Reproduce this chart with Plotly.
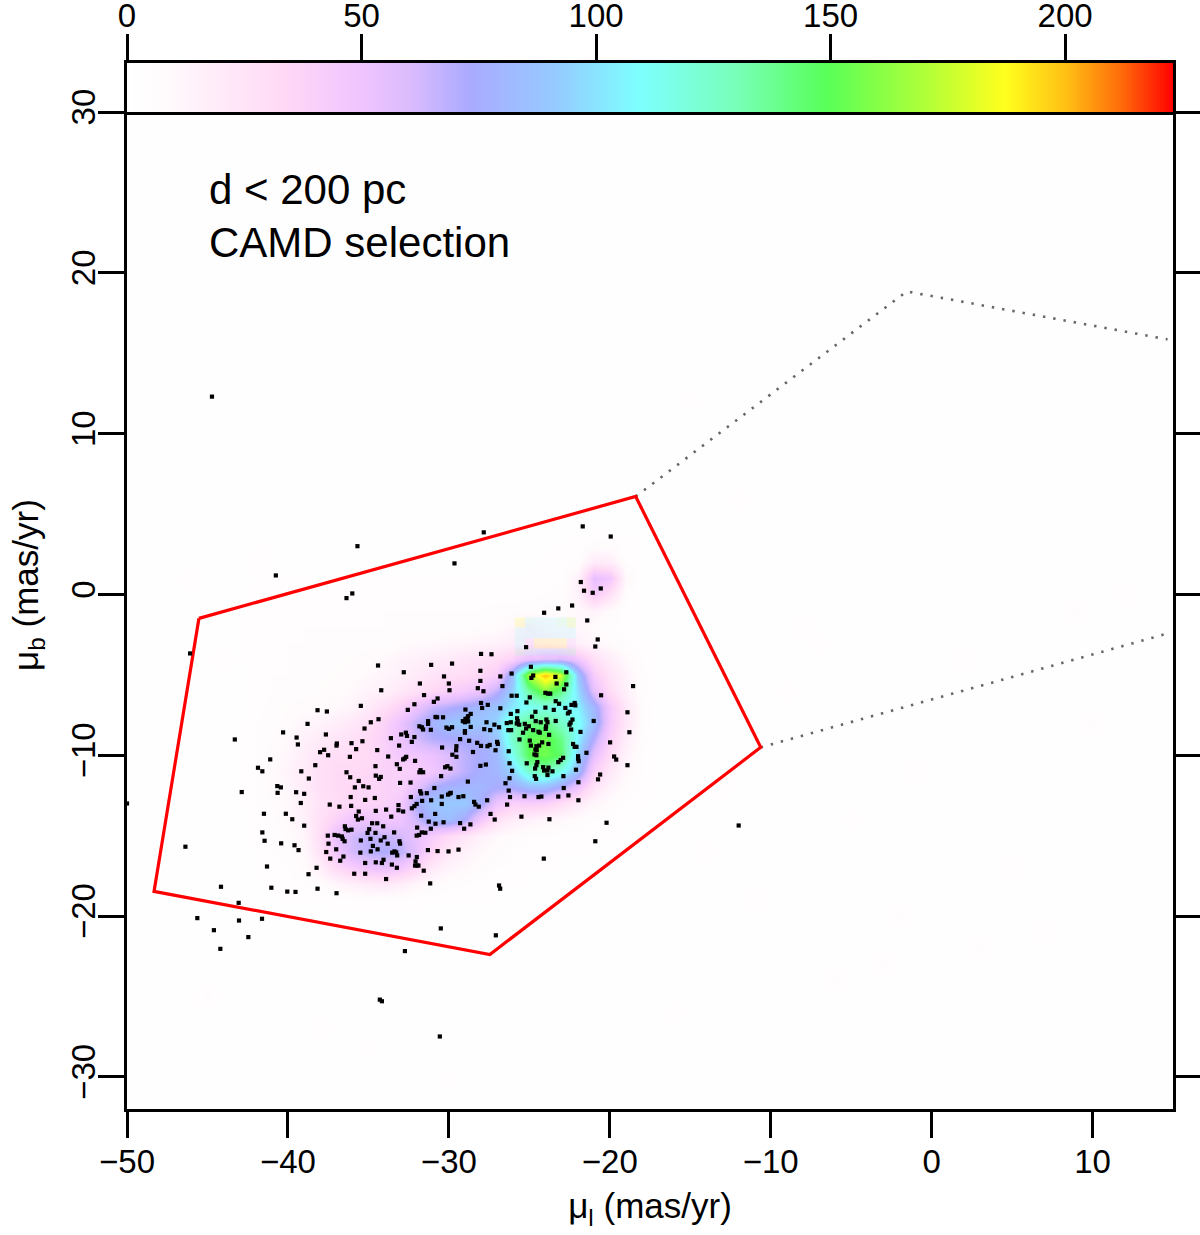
import plotly.graph_objects as go

# ---- density image (mas/yr grid) ----
BACKGROUND = 2.5
grid_x = list(range(-51, 17))
grid_y = list(range(31, -34, -1))
block_x = list(range(-42, -16))
block_y = list(range(3, -20, -1))
block_z = [
 [3,3,3,3,3,3,3,3,3,3,3,3,3,3,3,3,3,3,3,3,4,7,7,4,3,3],
 [3,3,3,3,3,3,3,3,3,3,3,3,3,3,3,3,3,3,3,4,6,20,18,5,3,3],
 [3,3,3,3,3,3,3,3,3,3,3,3,3,3,3,3,3,3,4,5,15,55,48,10,3,3],
 [4,4,4,4,4,4,4,4,4,4,4,4,4,4,4,4,4,4,5,6,15,45,28,6,3,3],
 [5,5,5,5,5,5,5,5,5,5,5,5,5,5,5,6,6,7,8,8,10,14,8,4,3,3],
 [5,5,5,5,5,5,5,5,5,6,6,6,6,6,7,8,12,18,14,12,12,8,5,4,3,3],
 [5,5,5,5,6,6,6,6,6,8,10,10,12,12,14,15,18,20,20,18,15,12,8,5,3,3],
 [5,5,5,6,6,6,7,8,10,14,16,18,20,24,26,30,38,52,60,60,48,28,18,10,5,3],
 [4,5,5,6,6,7,8,10,13,16,20,25,28,30,34,42,88,170,200,178,88,42,25,14,6,3],
 [4,5,6,6,7,8,10,14,16,22,28,34,40,45,52,68,95,135,160,140,98,55,30,16,6,3],
 [4,6,7,8,9,10,13,20,28,38,52,65,70,76,82,88,102,112,115,112,105,80,45,22,7,3],
 [5,6,8,12,14,18,22,28,38,52,68,78,88,92,88,96,125,140,140,125,112,85,45,22,7,3],
 [5,7,10,16,20,24,28,32,40,52,62,70,72,74,76,88,125,150,155,140,105,70,38,18,6,3],
 [5,8,12,18,26,30,30,32,38,46,48,52,60,68,74,82,115,150,155,145,95,55,30,14,5,3],
 [5,8,14,20,28,32,32,34,38,40,42,48,58,68,76,80,95,125,130,115,85,40,22,10,5,3],
 [5,8,12,20,28,32,34,36,38,40,55,72,78,80,80,74,75,85,85,72,50,25,14,8,4,3],
 [5,7,10,16,26,30,34,36,38,46,74,88,90,90,76,50,40,42,40,30,20,12,8,5,3,3],
 [4,6,10,16,28,38,50,50,48,50,64,80,84,72,46,26,18,15,12,10,7,5,4,3,3,3],
 [4,5,8,12,30,55,62,68,66,62,52,42,32,24,15,10,7,5,5,4,4,3,3,3,3,3],
 [3,5,6,10,26,48,62,68,72,68,54,34,22,15,10,7,5,4,4,3,3,3,3,3,3,3],
 [3,4,5,8,16,32,42,50,52,46,34,20,13,10,7,5,4,3,3,3,3,3,3,3,3,3],
 [3,3,4,5,7,12,16,20,22,18,12,8,6,5,4,3,3,3,3,3,3,3,3,3,3,3],
 [3,3,3,3,3,4,4,5,5,4,4,3,3,3,3,3,3,3,3,3,3,3,3,3,3,3],
]
faint_x = [-46,-44,-45,-38,-12,-8,-5,-2,3,7,10,-14,-11,-7,-1,2,9,12,-6,-3,5,-35,-30,-42,-16,-13,-9,-15]
faint_y = [1,-4,-25,-27,6,-2,-14,-20,-22,-21,-8,-16,-19,-3,-11,-4,-1,0,-24,-23,-17,-28,-30,2,-26,-12,-6,12]
faint_z = [5,5,6,5,4,5,4,6,6,5,6,5,5,4,5,5,6,5,6,6,5,4,4,5,4,5,4,4]

# pale banding just above the hot spot
pale_x = [-25.6,-25.0,-24.4,-23.6,-23.0,-22.4]
pale_y = [-1.75,-2.4,-3.1,-3.6,-4.0]
pale_z = [
 [187,120,110,110,130,170],
 [110,110,109,109,109,109],
 [110,60,187,187,187,60],
 [130,115,109,109,115,130],
 [60,60,40,40,60,60],
]

# ---- colour key ----
key_values = list(range(0, 224))
key_ticks = [0, 50, 100, 150, 200]
colour_stops = [
    (0, "#ffffff"), (8, "#fffbfc"), (33, "#ffd9f6"), (50, "#efc4ff"), (60, "#dcbcfd"),
    (73, "#aaaaff"), (92, "#95ccff"), (109, "#7dffff"), (130, "#78ffb8"),
    (149, "#58ff58"), (170, "#b0ff38"), (187, "#ffff1e"), (200, "#ffc014"), (212, "#ff6a0a"), (223, "#ff0000"),
]

# ---- individual stars ----
star_x = [-35.68,-29.65,-36.0,-36.36,-21.8,-21.6,-21.06,-20.56,-22.34,-23.2,-24.08,-21.4,-20.75,-20.9,-25.2,-28.0,-27.35,-34.4,-31.1,-29.8,-24.9,-32.8,-28.04,-30.3,-26.8,-26.1,-22.7,-24.87,-24.76,-23.38,-23.3,-22.7,-22.84,-31.8,-30.0,-28.04,-28.2,-26.67,-18.55,-34.2,-29.96,-27.85,-31.54,-30.7,-30.93,-26.1,-25.78,-24.0,-23.83,-23.7,-20.54,-24.97,-25.18,-23.36,-23.15,-28.0,-27.58,-27.93,-32.14,-32.55,-35.47,-26.8,-24.0,-23.48,-22.76,-22.38,-22.18,-22.14,-38.16,-37.58,-28.97,-18.9,-24.62,-26.15,-25.74,-22.5,-22.6,-28.64,-28.8,-28.97,-29.13,-29.0,-28.8,-28.84,-30.83,-30.73,-30.36,-34.37,-34.85,-38.78,-31.29,-31.29,-27.66,-27.17,-26.88,-26.4,-26.15,-25.76,-25.72,-25.78,-25.63,-24.83,-24.6,-24.29,-23.94,-23.87,-23.96,-23.98,-23.36,-22.32,-22.43,-22.5,-22.4,-21.0,-25.28,-25.03,-25.2,-25.39,-31.83,-31.68,-31.6,-31.12,-30.15,-30.0,-29.8,-28.64,-29.0,-29.0,-27.8,-27.43,-26.3,-26.13,-24.76,-24.43,-24.35,-23.77,-21.82,-18.78,-35.24,-40.3,-37.64,-39.46,-39.38,-32.96,-32.67,-32.6,-32.14,-33.6,-32.3,-35.37,-36.05,-36.96,-36.98,-33.09,-29.3,-28.74,-28.24,-28.0,-27.6,-27.46,-27.0,-26.96,-27.1,-25.61,-24.97,-24.9,-24.56,-24.39,-24.2,-23.81,-24.62,-24.54,-22.28,-22.18,-22.07,-30.42,-29.53,-29.55,-28.5,-26.28,-19.98,-35.76,-37.75,-38.0,-37.5,-34.45,-21.45,-29.78,-29.53,-24.68,-24.56,-36.15,-33.77,-32.65,-32.74,-32.84,-32.1,-21.97,-21.97,-21.93,-19.73,-19.6,-22.9,-23.05,-23.2,-25.16,-26.23,-24.5,-24.56,-24.64,-38.3,-18.9,-33.23,-33.05,-34.56,-28.04,-27.7,-30.23,-30.09,-29.9,-31.76,-31.83,-31.6,-24.14,-23.81,-24.08,-23.87,-23.56,-22.1,-26.07,-36.36,-39.17,-34.54,-34.23,-34.33,-36.13,-38.7,-30.48,-23.87,-24.66,-24.58,-22.88,-26.23,-26.48,-20.6,-20.73,-35.6,-33.03,-32.38,-28.82,-21.95,-35.32,-35.84,-34.99,-30.9,-22.86,-40.44,-26.28,-39.49,-38.99,-31.78,-31.72,-31.37,-29.94,-29.88,-30.05,-36.1,-34.6,-35.2,-32.36,-30.44,-29.4,-29.1,-26.2,-25.3,-24.43,-24.25,-23.2,-22.57,-31.66,-31.1,-27.62,-21.95,-28.43,-28.35,-28.14,-39.2,-37.4,-36.8,-36.07,-32.0,-32.14,-32.3,-30.44,-26.38,-33.13,-33.13,-32.84,-35.6,-34.54,-33.9,-40.13,-27.41,-30.85,-35.76,-35.65,-35.4,-33.58,-31.72,-39.73,-25.49,-23.75,-27.15,-31.25,-30.83,-30.33,-29.3,-28.66,-20.2,-34.77,-34.45,-38.99,-31.97,-31.12,-29.05,-36.46,-36.42,-36.26,-36.05,-34.95,-34.08,-33.4,-34.56,-35.05,-31.68,-31.46,-32.0,-31.85,-37.52,-37.1,-36.88,-36.65,-36.6,-36.48,-34.87,-34.0,-34.23,-35.47,-33.07,-33.03,-33.8,-20.9,-40.42,-37.48,-34.72,-39.59,-37.0,-37.62,-39.34,-34.43,-34.85,-35.5,-33.52,-33.38,-33.27,-33.21,-32.5,-31.99,-31.3,-30.7,-30.02,-29.4,-36.55,-37.37,-36.75,-24.1,-34.06,-34.16,-34.54,-35.2,-33.54,-33.23,-32.07,-32.1,-31.99,-31.89,-38.22,-31.56,-38.72,-35.88,-35.2,-33.9,-31.16,-26.88,-26.81,-40.04,-39.53,-38.16,-36.98,-46.08,-43.3,-41.86,-41.59,-41.1,-40.66,-40.64,-42.87,-41.49,-41.59,-41.45,-46.37,-41.3,-44.16,-41.03,-43.06,-45.63,-43.04,-41.61,-44.6,-42.46,-44.2,-32.73,-44.72,-40.75,-27.83,-21.68,-19.94,-11.99,-50.0,-34.29,-34.16,-30.56,-27.08,-30.5]
star_y = [3.0,1.93,0.06,-0.23,0.77,0.23,0.1,0.37,-0.69,-0.87,-1.14,-1.62,-2.8,-3.24,-3.28,-3.7,-3.72,-4.42,-4.38,-4.3,-4.5,-4.84,-4.75,-5.1,-5.1,-4.92,-4.84,-5.19,-5.04,-5.13,-5.54,-5.6,-5.9,-5.54,-5.54,-5.38,-5.83,-5.7,-5.7,-5.96,-5.96,-6.02,-6.26,-6.47,-6.68,-6.3,-6.3,-6.12,-6.17,-6.17,-6.27,-6.4,-6.72,-6.64,-6.8,-6.75,-6.87,-7.06,-6.83,-7.18,-6.93,-7.08,-7.04,-7.18,-7.06,-6.87,-6.75,-6.9,-7.2,-7.28,-7.16,-7.33,-7.3,-7.43,-7.26,-7.3,-7.4,-7.43,-7.57,-7.74,-7.88,-7.95,-7.9,-7.68,-7.62,-7.64,-7.64,-7.76,-7.95,-8.05,-7.88,-8.05,-7.95,-8.1,-8.26,-8.0,-7.95,-7.7,-7.88,-8.03,-8.1,-7.6,-7.88,-7.95,-7.78,-7.95,-8.2,-8.36,-7.87,-7.78,-7.97,-8.1,-8.4,-7.87,-8.05,-8.2,-8.34,-8.6,-8.2,-8.26,-8.4,-8.42,-8.28,-8.36,-8.26,-8.24,-8.5,-8.6,-8.38,-8.44,-8.44,-8.44,-8.44,-8.54,-8.6,-8.73,-8.55,-8.57,-8.34,-8.58,-8.71,-8.9,-9.33,-8.71,-8.6,-8.8,-8.87,-8.94,-9.17,-9.13,-9.25,-9.27,-9.4,-9.4,-9.0,-9.1,-9.23,-9.42,-9.44,-9.36,-9.17,-9.3,-9.69,-9.02,-9.09,-9.4,-9.44,-9.4,-9.2,-9.3,-9.65,-9.69,-9.3,-9.48,-9.48,-9.52,-9.44,-9.69,-9.8,-9.75,-9.2,-9.62,-9.66,-9.81,-10.0,-9.68,-9.85,-9.97,-10.1,-9.95,-10.0,-10.1,-10.08,-10.1,-10.2,-10.26,-10.35,-10.06,-10.22,-10.37,-10.08,-10.27,-10.16,-10.3,-10.43,-10.5,-10.5,-10.43,-10.62,-10.83,-10.62,-10.62,-10.56,-10.85,-10.68,-10.66,-10.58,-10.75,-10.68,-10.83,-10.93,-11.06,-11.06,-10.74,-10.77,-10.95,-10.95,-11.0,-10.9,-10.97,-11.06,-11.0,-11.27,-11.35,-11.47,-11.37,-11.45,-11.3,-11.23,-11.3,-11.47,-11.3,-11.43,-11.74,-11.2,-11.5,-11.6,-11.72,-11.7,-11.64,-11.68,-11.93,-12.0,-12.0,-12.04,-12.04,-12.0,-12.2,-12.3,-12.4,-12.24,-12.38,-12.36,-12.38,-12.34,-12.45,-12.6,-12.66,-12.78,-12.6,-12.57,-12.6,-12.55,-12.6,-12.55,-12.6,-12.57,-12.57,-12.5,-12.84,-12.8,-12.8,-12.8,-12.9,-13.07,-13.2,-12.97,-13.07,-13.2,-13.15,-13.03,-13.17,-13.3,-13.03,-13.07,-13.1,-13.42,-13.5,-13.5,-13.46,-13.38,-13.64,-13.65,-13.65,-13.78,-14.0,-13.92,-13.82,-13.76,-13.98,-13.82,-13.98,-14.0,-14.13,-14.26,-14.17,-14.22,-14.3,-14.2,-14.23,-14.23,-14.38,-14.5,-14.57,-14.57,-14.42,-14.59,-14.67,-14.63,-14.6,-14.42,-14.8,-14.83,-14.83,-14.8,-14.82,-15.0,-14.96,-15.0,-14.96,-15.0,-15.05,-15.2,-15.35,-15.2,-15.1,-15.3,-15.3,-15.35,-15.5,-15.5,-15.35,-15.48,-15.5,-15.64,-15.6,-15.85,-16.02,-15.9,-15.85,-15.98,-16.06,-16.06,-15.98,-16.04,-16.23,-16.23,-16.33,-15.9,-15.96,-15.98,-15.87,-16.3,-16.43,-16.56,-16.43,-16.5,-16.7,-16.66,-16.7,-16.8,-17.0,-16.6,-16.86,-16.86,-16.86,-17.0,-17.18,-17.4,-17.37,-17.37,-17.7,-17.97,-18.1,-18.3,-18.48,-18.5,-18.3,-18.58,-3.67,-9.02,-10.78,-11.0,-10.26,-11.92,-12.34,-12.29,-13.64,-14.8,-15.32,-15.69,-16.92,-18.18,-18.24,-19.18,-20.13,-20.28,-20.17,-20.88,-21.31,-22.04,-22.18,12.3,1.18,3.86,4.23,3.6,-14.37,-13.0,-25.2,-25.3,-27.49,-21.2,-20.77]

# ---- selection polygon and dotted outline ----
poly_x = [-45.53,-18.39,-10.62,-27.45,-48.32,-45.53]
poly_y = [-1.49,6.09,-9.51,-22.39,-18.47,-1.49]
dot_x = [-10.62,14.66,None,-18.39,-1.55,14.66,None,-18.39,-10.62]
dot_y = [-9.51,-2.43,None,6.09,18.84,15.86,None,6.09,-9.51]

labels = ["d < 200 pc", "CAMD selection"]
label_y = [25.2, 21.9]
label_x = -45.0

# ---- build image ----
z = [[BACKGROUND for _ in grid_x] for _ in grid_y]
for j, yy in enumerate(block_y):
    for i, xx in enumerate(block_x):
        z[grid_y.index(yy)][grid_x.index(xx)] = block_z[j][i]
for xx, yy, v in zip(faint_x, faint_y, faint_z):
    z[grid_y.index(yy)][grid_x.index(xx)] = v

scale = [[v / 223, c] for v, c in colour_stops]
FONT = "Liberation Sans, Arial, sans-serif"
W, H = 1200, 1235
M_L, M_R, M_T, M_B = 127, 27, 63, 126
ph = H - M_T - M_B
split = (1109 - 112) / ph

fig = go.Figure()
fig.add_trace(go.Heatmap(x=grid_x, y=grid_y, z=z, zmin=0, zmax=223, colorscale=scale,
                         zsmooth="best", showscale=False, hoverinfo="skip"))
fig.add_trace(go.Heatmap(x=pale_x, y=pale_y, z=pale_z, zmin=0, zmax=223, colorscale=scale, opacity=0.16,
                         zsmooth=False, showscale=False, hoverinfo="skip"))
fig.add_trace(go.Scatter(x=dot_x, y=dot_y, mode="lines", hoverinfo="skip",
                         line=dict(color="#666666", width=2.6, dash="2.4px,8px")))
fig.add_trace(go.Scatter(x=poly_x, y=poly_y, mode="lines", hoverinfo="skip",
                         line=dict(color="#ff0000", width=3.2)))
fig.add_trace(go.Scatter(x=star_x, y=star_y, mode="markers", hoverinfo="skip",
                         marker=dict(color="black", size=4.2, symbol="square", line=dict(width=0))))
fig.add_trace(go.Heatmap(x=key_values, y=[0, 1], z=[key_values, key_values], zmin=0, zmax=223,
                         colorscale=scale, zsmooth="best", showscale=False, hoverinfo="skip",
                         xaxis="x2", yaxis="y2"))

ax = dict(showgrid=False, zeroline=False, linecolor="black", linewidth=2.6, ticks="outside", automargin=False,
          ticklen=26, tickwidth=2.6, tickcolor="black", tickfont=dict(family=FONT, size=33, color="black"))
fig.update_layout(
    width=W, height=H, margin=dict(l=M_L, r=M_R, t=M_T, b=M_B, autoexpand=False), showlegend=False,
    paper_bgcolor="white", plot_bgcolor="white",
    xaxis=dict(ax, domain=[0, 1], range=[-50, 15], tickvals=[-50, -40, -30, -20, -10, 0, 10],
               ticktext=["\u221250", "\u221240", "\u221230", "\u221220", "\u221210", "0", "10"], mirror=True,
               ticklabelstandoff=-4,
               title=dict(text="\u03bc<sub>l</sub> (mas/yr)", font=dict(family=FONT, size=35, color="black"), standoff=15)),
    yaxis=dict(ax, domain=[0, split], range=[-32, 30], tickvals=[-30, -20, -10, 0, 10, 20, 30],
               ticktext=["\u221230", "\u221220", "\u221210", "0", "10", "20", "30"], tickangle=-90, mirror="ticks",
               ticklabelstandoff=-10),
    xaxis2=dict(ax, domain=[0, 1], range=[0, 223], tickvals=key_ticks, side="top", anchor="y2", mirror=True,
                ticklabelstandoff=-6),
    yaxis2=dict(domain=[split, 1], range=[0, 1], anchor="x2", showticklabels=False, ticks="", automargin=False,
                showgrid=False, zeroline=False, linecolor="black", linewidth=2.6, mirror=True),
)
for t, ty in zip(labels, label_y):
    fig.add_annotation(x=label_x, y=ty, text=t, showarrow=False, xanchor="left", yanchor="middle",
                       font=dict(family=FONT, size=42, color="black"))
fig.add_annotation(xref="paper", yref="paper", x=(28 - M_L) / (W - M_L - M_R), y=(H - M_B - 585) / ph,
                   xanchor="center", yanchor="middle",
                   text="\u03bc<sub>b</sub> (mas/yr)", textangle=-90, showarrow=False,
                   font=dict(family=FONT, size=35, color="black"))

fig.write_html("out.html", config={"displayModeBar": False}, post_script="document.body.style.margin='0';")
